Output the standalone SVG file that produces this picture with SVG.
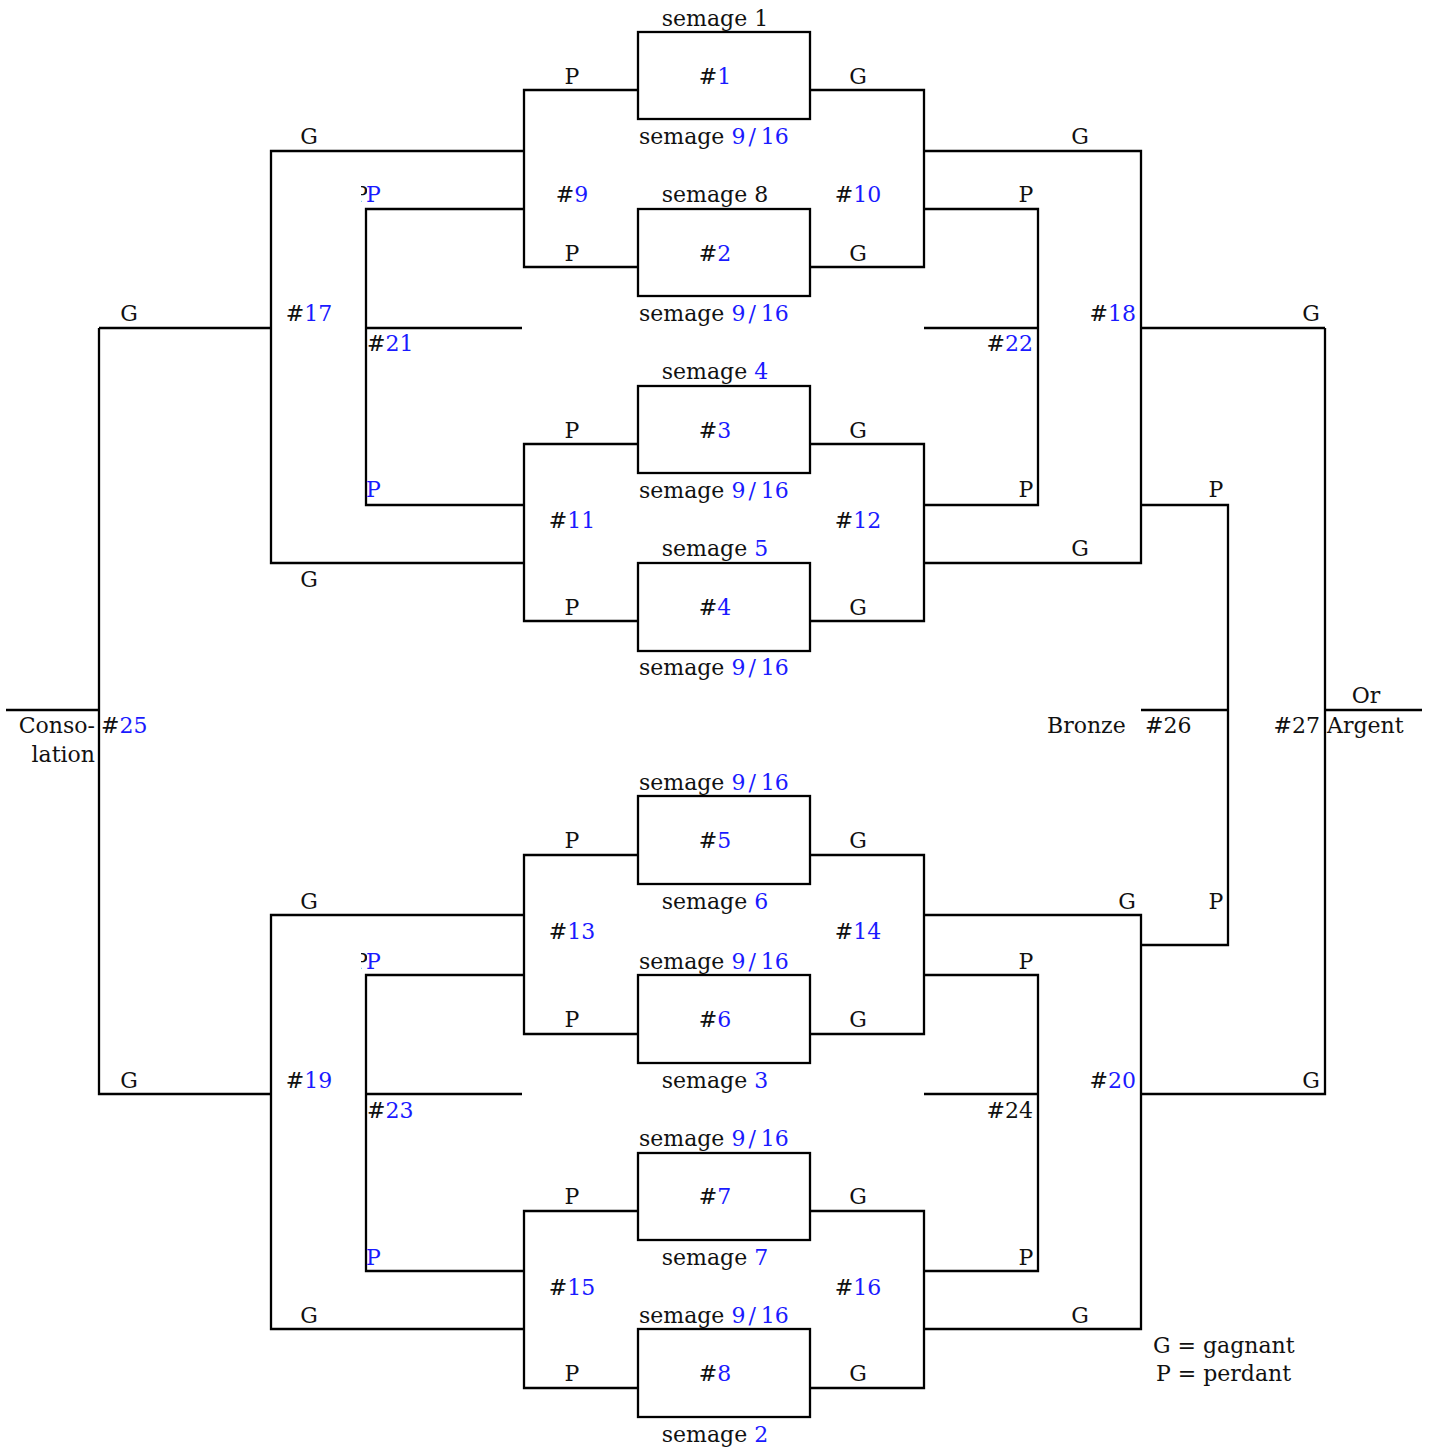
<svg xmlns="http://www.w3.org/2000/svg" width="1429" height="1447" viewBox="0 0 1429 1447">
<style>
text{font-family:"DejaVu Serif","Liberation Serif",serif;font-size:22px;fill:#111}
.b{fill:#1a1aff}
.m{text-anchor:middle}
.e{text-anchor:end}
.box{fill:none;stroke:#000;stroke-width:2.3}
#connectors path{fill:none;stroke:#000;stroke-width:2.3}
</style>
<defs>
<clipPath id="cp"><rect x="361" y="0" width="6" height="1447"/></clipPath>
</defs>
<rect width="1429" height="1447" fill="#fff"/>
<g id="connectors">
<path d="M638,90 H524 V267 H638"/>
<path d="M810,90 H924 V267 H810"/>
<path d="M638,444 H524 V621 H638"/>
<path d="M810,444 H924 V621 H810"/>
<path d="M524,151 H271 V563 H524"/>
<path d="M524,209 H366 V505 H524"/>
<path d="M366,328 H522"/>
<path d="M271,328 H99"/>
<path d="M924,151 H1141 V563 H924"/>
<path d="M924,209 H1038 V505 H924"/>
<path d="M924,328 H1038"/>
<path d="M1141,328 H1325"/>
<path d="M1141,505 H1228 V945 H1141"/>
<path d="M1141,710 H1228"/>
<path d="M1325,328 V1094 H1141"/>
<path d="M1325,710 H1422"/>
<path d="M99,328 V1094 H271"/>
<path d="M6,710 H99"/>
<path d="M638,855 H524 V1034 H638"/>
<path d="M810,855 H924 V1034 H810"/>
<path d="M638,1211 H524 V1388 H638"/>
<path d="M810,1211 H924 V1388 H810"/>
<path d="M524,915 H271 V1329 H524"/>
<path d="M524,975 H366 V1271 H524"/>
<path d="M366,1094 H522"/>
<path d="M924,915 H1141 V1329 H924"/>
<path d="M924,975 H1038 V1271 H924"/>
<path d="M924,1094 H1038"/>
</g>
<g id="m1"><rect class="box" x="638" y="32" width="172" height="87"/><text class="m" x="715" y="84">#<tspan class="b">1</tspan></text><text class="m" x="715" y="26">semage 1</text><text x="639" y="144">semage <tspan class="b">9<tspan dx="3">/</tspan><tspan dx="5">16</tspan></tspan></text></g>
<g id="m2"><rect class="box" x="638" y="209" width="172" height="87"/><text class="m" x="715" y="261">#<tspan class="b">2</tspan></text><text class="m" x="715" y="202">semage 8</text><text x="639" y="321">semage <tspan class="b">9<tspan dx="3">/</tspan><tspan dx="5">16</tspan></tspan></text></g>
<g id="m3"><rect class="box" x="638" y="386" width="172" height="87"/><text class="m" x="715" y="438">#<tspan class="b">3</tspan></text><text class="m" x="715" y="379">semage <tspan class="b">4</tspan></text><text x="639" y="498">semage <tspan class="b">9<tspan dx="3">/</tspan><tspan dx="5">16</tspan></tspan></text></g>
<g id="m4"><rect class="box" x="638" y="563" width="172" height="88"/><text class="m" x="715" y="615">#<tspan class="b">4</tspan></text><text class="m" x="715" y="556">semage <tspan class="b">5</tspan></text><text x="639" y="675">semage <tspan class="b">9<tspan dx="3">/</tspan><tspan dx="5">16</tspan></tspan></text></g>
<g id="m5"><rect class="box" x="638" y="796" width="172" height="88"/><text class="m" x="715" y="848">#<tspan class="b">5</tspan></text><text x="639" y="790">semage <tspan class="b">9<tspan dx="3">/</tspan><tspan dx="5">16</tspan></tspan></text><text class="m" x="715" y="909">semage <tspan class="b">6</tspan></text></g>
<g id="m6"><rect class="box" x="638" y="975" width="172" height="88"/><text class="m" x="715" y="1027">#<tspan class="b">6</tspan></text><text x="639" y="969">semage <tspan class="b">9<tspan dx="3">/</tspan><tspan dx="5">16</tspan></tspan></text><text class="m" x="715" y="1088">semage <tspan class="b">3</tspan></text></g>
<g id="m7"><rect class="box" x="638" y="1153" width="172" height="87"/><text class="m" x="715" y="1204">#<tspan class="b">7</tspan></text><text x="639" y="1146">semage <tspan class="b">9<tspan dx="3">/</tspan><tspan dx="5">16</tspan></tspan></text><text class="m" x="715" y="1265">semage <tspan class="b">7</tspan></text></g>
<g id="m8"><rect class="box" x="638" y="1329" width="172" height="88"/><text class="m" x="715" y="1381">#<tspan class="b">8</tspan></text><text x="639" y="1323">semage <tspan class="b">9<tspan dx="3">/</tspan><tspan dx="5">16</tspan></tspan></text><text class="m" x="715" y="1442">semage <tspan class="b">2</tspan></text></g>
<g id="labels-top">
<text class="m" x="572" y="84">P</text><text class="m" x="858" y="84">G</text>
<text class="m" x="572" y="261">P</text><text class="m" x="858" y="261">G</text>
<text class="m" x="572" y="438">P</text><text class="m" x="858" y="438">G</text>
<text class="m" x="572" y="615">P</text><text class="m" x="858" y="615">G</text>
<text class="m" x="309" y="144">G</text><text class="m" x="1080" y="144">G</text>
<text class="m" x="309" y="587">G</text><text class="m" x="1080" y="556">G</text>
<text class="m" x="1026" y="202">P</text><text class="m" x="1026" y="497">P</text>
<text class="m" x="1216" y="497">P</text>
<text class="m" x="129" y="321">G</text><text class="m" x="1311" y="321">G</text>
<text class="e" x="368" y="202" clip-path="url(#cp)">P</text>
<text class="b" x="366" y="202">P</text>
<text class="b" x="366" y="497">P</text>
</g>
<g id="labels-bottom">
<text class="m" x="572" y="848">P</text><text class="m" x="858" y="848">G</text>
<text class="m" x="572" y="1027">P</text><text class="m" x="858" y="1027">G</text>
<text class="m" x="572" y="1204">P</text><text class="m" x="858" y="1204">G</text>
<text class="m" x="572" y="1381">P</text><text class="m" x="858" y="1381">G</text>
<text class="m" x="309" y="909">G</text><text class="m" x="1127" y="909">G</text>
<text class="m" x="1216" y="909">P</text>
<text class="m" x="309" y="1323">G</text><text class="m" x="1080" y="1323">G</text>
<text class="m" x="1026" y="969">P</text><text class="m" x="1026" y="1265">P</text>
<text class="m" x="129" y="1088">G</text><text class="m" x="1311" y="1088">G</text>
<text class="e" x="368" y="969" clip-path="url(#cp)">P</text>
<text class="b" x="366" y="969">P</text>
<text class="b" x="366" y="1265">P</text>
</g>
<g id="m9"><text class="m" x="572" y="202">#<tspan class="b">9</tspan></text></g>
<g id="m10"><text class="m" x="858" y="202">#<tspan class="b">10</tspan></text></g>
<g id="m11"><text class="m" x="572" y="528">#<tspan class="b">11</tspan></text></g>
<g id="m12"><text class="m" x="858" y="528">#<tspan class="b">12</tspan></text></g>
<g id="m13"><text class="m" x="572" y="939">#<tspan class="b">13</tspan></text></g>
<g id="m14"><text class="m" x="858" y="939">#<tspan class="b">14</tspan></text></g>
<g id="m15"><text class="m" x="572" y="1295">#<tspan class="b">15</tspan></text></g>
<g id="m16"><text class="m" x="858" y="1295">#<tspan class="b">16</tspan></text></g>
<g id="m17"><text class="m" x="309" y="321">#<tspan class="b">17</tspan></text></g>
<g id="m18"><text class="e" x="1136" y="321">#<tspan class="b">18</tspan></text></g>
<g id="m19"><text class="m" x="309" y="1088">#<tspan class="b">19</tspan></text></g>
<g id="m20"><text class="e" x="1136" y="1088">#<tspan class="b">20</tspan></text></g>
<g id="m21"><text x="367" y="351">#<tspan class="b">21</tspan></text></g>
<g id="m22"><text class="e" x="1033" y="351">#<tspan class="b">22</tspan></text></g>
<g id="m23"><text x="367" y="1118">#<tspan class="b">23</tspan></text></g>
<g id="m24"><text class="e" x="1033" y="1118">#24</text></g>
<g id="m25"><text x="101" y="733">#<tspan class="b">25</tspan></text><text class="e" x="95" y="733">Conso-</text><text class="e" x="95" y="762">lation</text></g>
<g id="m26"><text x="1047" y="733">Bronze</text><text x="1145" y="733">#26</text></g>
<g id="m27"><text class="e" x="1320" y="733">#27</text><text x="1327" y="733">Argent</text><text class="m" x="1366" y="703">Or</text></g>
<g id="legend"><text x="1153" y="1353">G = gagnant</text><text x="1156" y="1381">P = perdant</text></g>
</svg>
